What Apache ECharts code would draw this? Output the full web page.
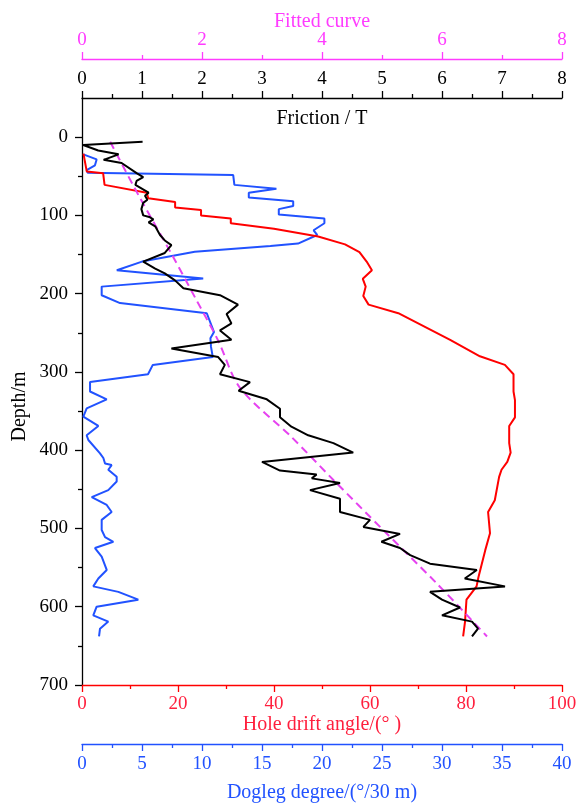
<!DOCTYPE html>
<html><head><meta charset="utf-8">
<script src="https://cdn.jsdelivr.net/npm/echarts@6/dist/echarts.min.js"></script>
<style>html,body{margin:0;padding:0;background:#fff}#c{width:582px;height:806px}</style>
</head><body><div id="c"></div>
<script>
const FONT = "'Liberation Serif','Times New Roman',serif";

const depthTicks = [0, 100, 200, 300, 400, 500, 600, 700];
const depthMinorTicks = [50, 150, 250, 350, 450, 550, 650];

// Friction / T (black)
const frictionDepth = [6,10,17,22,29,33,46,51,56,61,71,75,80,84,92,100,102,105,109,114,125,132,138,148,159,168,174,183,193,202,214,226,238,247,259,270,281,291,303,313,324,335,347,358,370,381,391,403,415,426,431,436,442,451,462,479,489,498,507,517,525,534,545,553,564,574,581,591,601,611,619,628,638];
const frictionValue = [1.01,0.02,0.27,0.61,0.36,0.66,0.91,1.02,0.91,0.89,1.11,1.05,1.09,1.02,0.99,1.02,1.12,1.19,1.11,1.22,1.30,1.38,1.49,1.38,1.02,1.22,1.38,1.55,1.69,2.30,2.60,2.41,2.49,2.30,2.49,1.49,2.27,2.38,2.30,2.80,2.61,3.08,3.30,3.30,3.49,3.77,4.19,4.52,3.00,3.30,3.91,3.83,4.30,3.80,4.30,4.30,4.80,4.69,5.30,4.99,5.30,5.47,5.80,6.58,6.38,7.05,5.80,6.00,6.30,6.00,6.50,6.60,6.50];

// Fitted curve (magenta dashed)
const fittedDepth = [6,74,149,210,260,320,383,438,502,570,638];
const fittedValue = [0.47,0.94,1.49,1.92,2.27,2.63,3.49,4.19,5.02,5.91,6.75];

// Hole drift angle / deg (red)
const driftDepth = [21,44,46,61,71,78,83,90,93,100,104,110,117,127,137,147,159,170,181,191,203,214,225,259,280,291,303,325,336,358,369,391,403,415,425,434,464,479,506,528,562,574,591,619,638];
const driftValue = [0.3,1.0,4.4,4.7,13.5,13.8,19.4,19.4,24.8,24.8,31.0,31.0,40.0,49.2,54.8,57.8,59.3,60.4,58.5,59.1,58.6,59.7,65.9,76.7,82.9,88.1,89.9,89.9,90.2,90.2,89.0,89.0,89.3,88.6,87.4,86.9,86.0,84.6,85.0,84.0,82.6,82.2,80.1,79.8,79.4];

// Dogleg degree / (deg/30 m) (blue)
const doglegDepth = [22,28.5,36,42,45.5,48.5,61,66,71,77,82,88,92,99,104,110,119,125,136,139,146.5,159,170,180.5,191,202,212,225,249,257,268,281,291,303,313,325,335,346.5,357,369,381,387,404,410,417,419,425,434,440,451,460,470,479,489,502,511,517,525,536,553,564,574,581,591,600,611,619,628,638];
const doglegValue = [0.11,1.22,1.08,0.39,0.47,12.6,12.7,16.2,13.9,13.9,17.6,17.6,16.4,16.4,20.2,20.2,19.3,19.6,18.0,15.7,9.4,5.0,2.9,10.1,1.64,1.64,3.17,10.4,11.0,10.7,10.75,10.9,5.9,5.5,0.67,0.67,2.06,0.39,0.11,1.36,0.39,0.53,1.5,1.78,1.92,2.47,2.19,2.89,2.89,2.19,0.81,2.06,2.47,1.64,1.64,1.92,2.61,1.08,1.64,2.06,1.36,0.94,3.03,4.69,1.22,0.94,2.19,1.5,1.42];

const BLACK = '#000000';
const RED = '#ff0000';
const RED_TXT = '#ff1f3d';
const BLUE = '#2152ff';
const MAG = '#ff3cff';
const MAG_LINE = '#e642f0';

function zip(vals, depths) { return vals.map((v, i) => [v, depths[i]]); }

function xAx(o) {
  return {
    type: 'value', position: o.pos, offset: o.offset, min: o.min, max: o.max, interval: o.interval,
    axisLine: { show: true, onZero: false, lineStyle: { color: o.color, width: 1.3 } },
    axisTick: { show: true, length: 7, lineStyle: { color: o.color, width: 1.3 } },
    minorTick: { show: true, splitNumber: 2, length: 4, lineStyle: { color: o.color, width: 1.3 } },
    axisLabel: { color: o.txt || o.color, fontSize: 19, fontFamily: FONT, margin: o.margin },
    splitLine: { show: false },
    name: o.name, nameLocation: 'middle', nameGap: o.nameGap, nameMoveOverlap: false,
    nameTextStyle: { color: o.txt || o.color, fontSize: 20, fontFamily: FONT }
  };
}

const chart = echarts.init(document.getElementById('c'), null, { renderer: 'canvas' });
chart.setOption({
  backgroundColor: '#ffffff',
  animation: false,
  grid: { left: 82, right: 20, top: 98, bottom: 121, containLabel: false, outerBoundsMode: 'none' },
  xAxis: [
    xAx({ pos: 'top', offset: 0, min: 0, max: 8, interval: 1, color: BLACK, margin: 9, name: 'Friction / T', nameGap: -31 }),
    xAx({ pos: 'top', offset: 39, min: 0, max: 8, interval: 2, color: MAG, margin: 9, name: 'Fitted curve', nameGap: 27 }),
    xAx({ pos: 'bottom', offset: 0, min: 0, max: 100, interval: 20, color: RED, txt: RED_TXT, margin: 10, name: 'Hole drift angle/(° )', nameGap: 30 }),
    xAx({ pos: 'bottom', offset: 59, min: 0, max: 40, interval: 5, color: BLUE, margin: 11, name: 'Dogleg degree/(°/30 m)', nameGap: 39 })
  ],
  yAxis: [
    {
      type: 'value', inverse: true, min: -50, max: 700, position: 'left',
      axisLine: { show: true, onZero: false, lineStyle: { color: BLACK, width: 1.3 } },
      axisTick: { show: true, length: 7, customValues: depthTicks, lineStyle: { color: BLACK, width: 1.3 } },
      axisLabel: { customValues: depthTicks, color: BLACK, fontSize: 19, fontFamily: FONT, margin: 14 },
      splitLine: { show: false },
      name: 'Depth/m', nameLocation: 'middle', nameRotate: 90, nameGap: 52, nameMoveOverlap: false,
      nameTextStyle: { color: BLACK, fontSize: 20, fontFamily: FONT, padding: [0, 30, 0, 0] }
    },
    {
      type: 'value', inverse: true, min: -50, max: 700, position: 'left',
      axisLine: { show: false },
      axisTick: { show: true, length: 4, customValues: depthMinorTicks, lineStyle: { color: BLACK, width: 1.3 } },
      axisLabel: { show: false },
      splitLine: { show: false }
    }
  ],
  series: [
    { type: 'line', name: 'Dogleg', xAxisIndex: 3, yAxisIndex: 0, data: zip(doglegValue, doglegDepth), showSymbol: false, lineStyle: { color: BLUE, width: 2 }, itemStyle: { color: BLUE } },
    { type: 'line', name: 'Drift', xAxisIndex: 2, yAxisIndex: 0, data: zip(driftValue, driftDepth), showSymbol: false, lineStyle: { color: RED, width: 2 }, itemStyle: { color: RED } },
    { type: 'line', name: 'Fitted', xAxisIndex: 1, yAxisIndex: 0, data: zip(fittedValue, fittedDepth), showSymbol: false, smooth: 0.3, lineStyle: { color: MAG_LINE, width: 2, type: [8, 5] }, itemStyle: { color: MAG_LINE } },
    { type: 'line', name: 'Friction', xAxisIndex: 0, yAxisIndex: 0, data: zip(frictionValue, frictionDepth), showSymbol: false, lineStyle: { color: BLACK, width: 2 }, itemStyle: { color: BLACK } }
  ]
});
</script>
</body></html>
